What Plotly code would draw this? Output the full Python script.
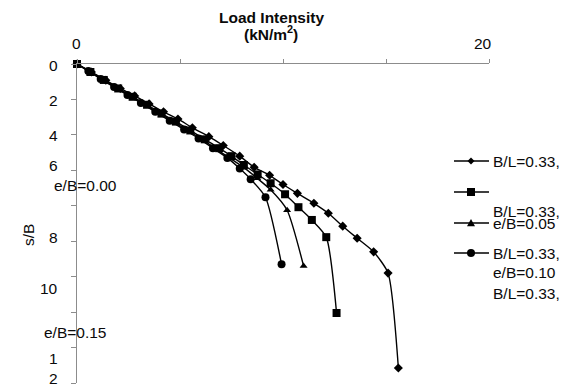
import plotly.graph_objects as go

# ---------------- data ----------------
# B/L=0.33, e/B=0.00 (diamond)
x_e000 = [0, 0.7, 1.4, 2.1, 2.8, 3.5, 4.2, 4.9, 5.6, 6.4, 7.1, 7.9, 8.6, 9.35, 10.0, 10.7, 11.5, 12.2, 12.9, 13.6, 14.4, 15.1, 15.6]
y_e000 = [0, 0.45, 0.92, 1.38, 1.8, 2.25, 2.7, 3.1, 3.6, 4.1, 4.6, 5.2, 5.83, 6.28, 6.8, 7.3, 7.86, 8.42, 9.15, 9.83, 10.6, 11.8, 17.15]
# B/L=0.33, e/B=0.05 (square)
x_e005 = [0, 0.65, 1.3, 2.0, 2.7, 3.4, 4.1, 4.8, 5.5, 6.2, 6.9, 7.5, 8.1, 8.77, 9.4, 10.1, 10.75, 11.4, 12.1, 12.6]
y_e005 = [0, 0.45, 0.9, 1.38, 1.85, 2.3, 2.8, 3.25, 3.75, 4.25, 4.75, 5.2, 5.7, 6.23, 6.73, 7.35, 8.08, 8.8, 9.77, 14.05]
# B/L=0.33, e/B=0.10 (triangle)
x_e010 = [0, 0.6, 1.25, 1.9, 2.55, 3.2, 3.9, 4.6, 5.3, 6.0, 6.7, 7.4, 8.1, 8.75, 9.4, 10.2, 11.0]
y_e010 = [0, 0.42, 0.88, 1.32, 1.78, 2.22, 2.72, 3.2, 3.7, 4.2, 4.75, 5.3, 5.85, 6.45, 7.1, 8.25, 11.4]
# B/L=0.33, e/B=0.15 (circle)
x_e015 = [0, 0.55, 1.15, 1.8, 2.45, 3.1, 3.8, 4.5, 5.2, 5.9, 6.6, 7.3, 7.9, 8.43, 9.15, 9.93]
y_e015 = [0, 0.4, 0.85, 1.3, 1.75, 2.2, 2.7, 3.2, 3.7, 4.2, 4.75, 5.3, 5.9, 6.5, 7.52, 11.3]

x_tickvals = [0, 5, 10, 15, 20]
# x tick labels as they appear (text, pixel column in the page)
x_labels = [("0", 76), ("20", 483)]
y_tickvals = [0, 2, 4, 6, 8, 10, 12, 14, 16, 18]
# labels as they appear on the y axis (text, pixel row in the page)
y_labels = [("0", 65), ("2", 100), ("4", 135), ("6", 165), ("8", 237), ("10", 288), ("1", 358), ("2", 378)]

# ---------------- layout helpers ----------------
OFF = 8  # default page body margin
PAGE_W, PAGE_H = 573, 386
W, H = PAGE_W - OFF, PAGE_H - OFF
# plot area in page pixels: x 77..489, y 64..383
L, T = 77 - OFF, 64 - OFF
R, B = W - (489 - OFF), H - (383 - OFF)
PW, PH = W - L - R, H - T - B


def px(x):
    return (x - OFF - L) / PW


def py(y):
    return (H - B - (y - OFF)) / PH


FONT = "Liberation Sans, Arial, sans-serif"
BLACK = "#000000"
TXT = "#0a0a0a"
AXC = "#8c8c8c"
FS = 15.5

fig = go.Figure()

series = [
    (x_e000, y_e000, "diamond", 7),
    (x_e005, y_e005, "square", 8),
    (x_e010, y_e010, "triangle-up", 7),
    (x_e015, y_e015, "circle", 8),
]
for xs, ys, sym, sz in series:
    fig.add_trace(go.Scatter(
        x=xs, y=ys, mode="lines+markers",
        line=dict(color=BLACK, width=1.4, shape="spline", smoothing=0.6),
        marker=dict(symbol=sym, size=sz, color=BLACK),
        showlegend=False, cliponaxis=False, hoverinfo="skip"))

annotations = []


def note(text, x, y, anchor="center", size=FS, angle=0):
    annotations.append(dict(text=text, x=px(x), y=py(y), xref="paper", yref="paper",
                            showarrow=False, xanchor=anchor, yanchor="middle", textangle=angle,
                            font=dict(family=FONT, size=size, color=TXT)))


# title
note("<b>Load Intensity</b>", 271, 17)
note("<b>(kN/m<sup>2</sup>)</b>", 271, 33)
# x tick labels
for t, xx in x_labels:
    note(t, xx, 44)
# y tick labels
for t, yy in y_labels:
    note(t, 60, yy, anchor="right")
# y axis title
note("s/B", 28, 235, angle=-90)
# stray legend texts
note("e/B=0.00", 52, 185, anchor="left")
note("e/B=0.15", 42, 332, anchor="left")
# legend texts
for t, yy in [("B/L=0.33,", 161), ("B/L=0.33,", 211), ("e/B=0.05", 223), ("B/L=0.33,", 253),
              ("e/B=0.10", 272), ("B/L=0.33,", 293)]:
    note(t, 491, yy, anchor="left")

# legend keys as shapes
shapes = []
LX0, LX1, MX = 454, 489, 471
for yy in [161, 192, 223, 253]:
    shapes.append(dict(type="line", xref="paper", yref="paper", x0=px(LX0), x1=px(LX1), y0=py(yy), y1=py(yy),
                       line=dict(color=BLACK, width=1.4)))
d = 3.5
shapes.append(dict(type="path", xref="paper", yref="paper",
                   path=f"M {px(MX)},{py(161-d)} L {px(MX+d)},{py(161)} L {px(MX)},{py(161+d)} L {px(MX-d)},{py(161)} Z",
                   fillcolor=BLACK, line=dict(width=0)))
s = 4
shapes.append(dict(type="rect", xref="paper", yref="paper", x0=px(MX-s), x1=px(MX+s), y0=py(192-s), y1=py(192+s),
                   fillcolor=BLACK, line=dict(width=0)))
t = 4
shapes.append(dict(type="path", xref="paper", yref="paper",
                   path=f"M {px(MX)},{py(223-t)} L {px(MX+t)},{py(223+t*0.8)} L {px(MX-t)},{py(223+t*0.8)} Z",
                   fillcolor=BLACK, line=dict(width=0)))
c = 4
shapes.append(dict(type="circle", xref="paper", yref="paper", x0=px(MX-c), x1=px(MX+c), y0=py(253-c), y1=py(253+c),
                   fillcolor=BLACK, line=dict(width=0)))

fig.update_layout(
    width=W, height=H, margin=dict(l=L, r=R, t=T, b=B, pad=0),
    paper_bgcolor="white", plot_bgcolor="white",
    font=dict(family=FONT, size=FS, color=TXT),
    annotations=annotations, shapes=shapes,
    xaxis=dict(range=[0, 20], side="top", tickvals=x_tickvals, showticklabels=False,
               ticks="outside", ticklen=4, tickcolor=AXC, showline=True, linecolor=AXC, linewidth=1,
               showgrid=False, zeroline=False),
    yaxis=dict(range=[18, 0], tickvals=y_tickvals, showticklabels=False,
               ticks="outside", ticklen=5, tickcolor=AXC, showline=True, linecolor=AXC, linewidth=1,
               showgrid=False, zeroline=False),
)

fig.write_html("out.html")
